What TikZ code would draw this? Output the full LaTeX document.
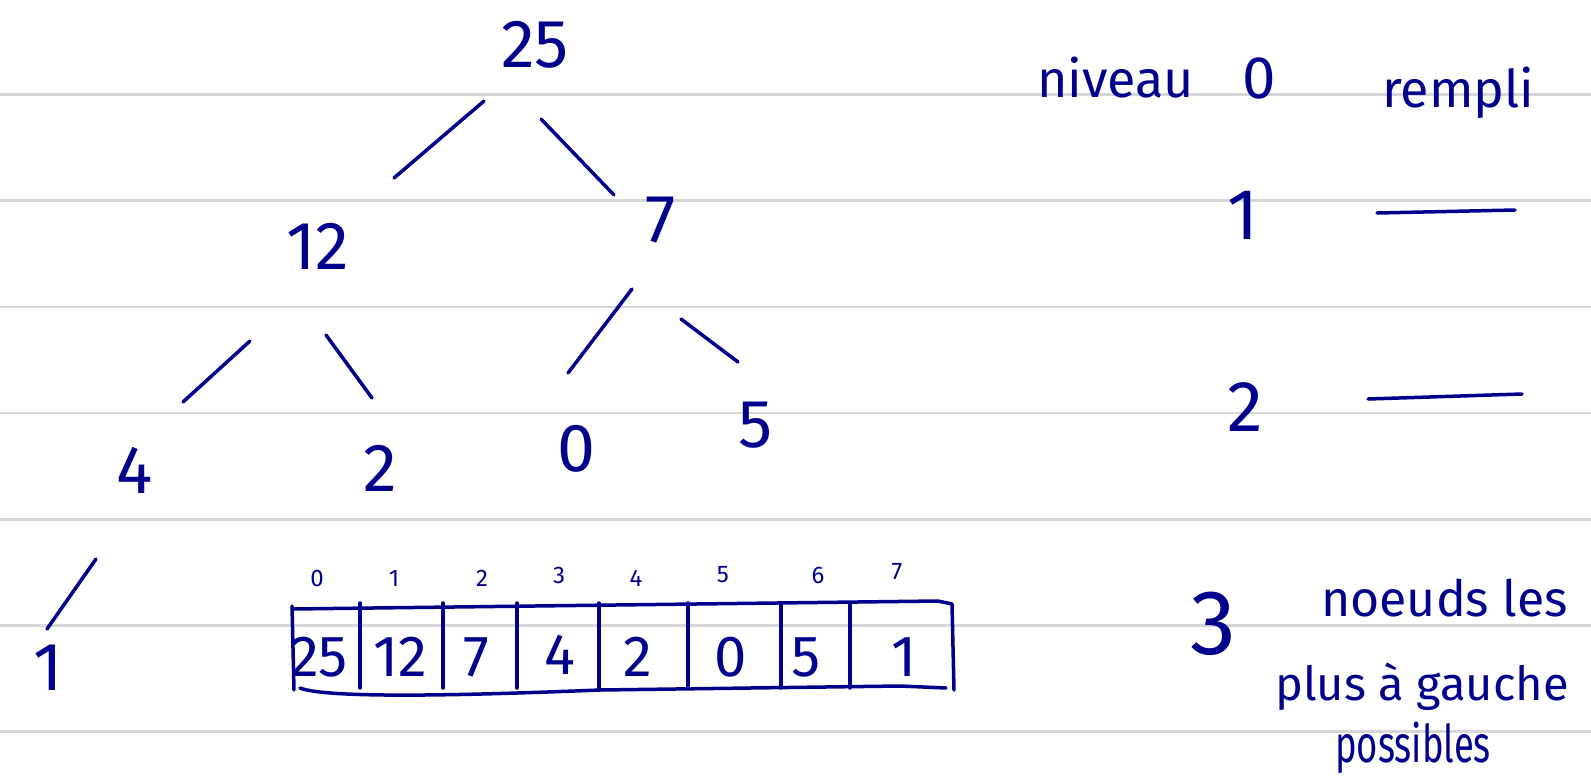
\documentclass[tikz,border=0pt]{standalone}
\usepackage{fontspec}
\setmainfont{Fira Sans}
\definecolor{inkc}{RGB}{0,0,140}
\definecolor{rulec}{RGB}{215,215,215}
\begin{document}
\begin{tikzpicture}[x=1pt,y=-1pt,
  ink/.style={draw=inkc, line width=3.5pt, line cap=round, line join=round},
  big/.style={text=inkc, font=\fontsize{68}{70}\selectfont, inner sep=0pt},
  lvl/.style={text=inkc, font=\fontsize{72}{74}\selectfont, inner sep=0pt},
  cell/.style={text=inkc, font=\fontsize{58}{60}\selectfont, inner sep=0pt},
  idx/.style={text=inkc, font=\fontsize{24}{26}\selectfont, inner sep=0pt},
  word/.style={text=inkc, font=\fontsize{52}{54}\selectfont, inner sep=0pt, anchor=base west},
  ruleline/.style={draw=rulec, line width=2.5pt}]
\useasboundingbox (0,0) rectangle (1591,780);
\fill[white] (0,0) rectangle (1591,780);
\foreach \y in {94.5,200.7,306.9,413.1,519.3,625.5,731.7}
  \draw[ruleline] (0,\y) -- (1591,\y);

% tree
\node[big] (n25) at (535,45) {25};
\node[big] (n12) at (318,246) {12};
\node[big] (n7) at (661,220) {7};
\node[big] (n4) at (135,470) {4};
\node[big] (n2) at (380,468) {2};
\node[big] (n0) at (576,449) {0};
\node[big] (n5) at (756,425) {5};
\node[big] (n1) at (48,668) {1};

\draw[ink] ([shift={(-51,56)}]n25.center) -- ([shift={(76,-68)}]n12.center);
\draw[ink] ([shift={(6,74)}]n25.center) -- ([shift={(-47,-25)}]n7.center);
\draw[ink] ([shift={(-68,95)}]n12.center) -- ([shift={(48,-68)}]n4.center);
\draw[ink] ([shift={(8,89)}]n12.center) -- ([shift={(-8,-70)}]n2.center);
\draw[ink] ([shift={(-29,69)}]n7.center) -- ([shift={(-8,-76)}]n0.center);
\draw[ink] ([shift={(20,99)}]n7.center) -- ([shift={(-18,-63)}]n5.center);
\draw[ink] ([shift={(-39,89)}]n4.center) -- ([shift={(-1,-39)}]n1.center);

% array
\draw[ink] (292,609) -- (938,601) -- (952,604) -- (954,690)
  (300,688) .. controls (330,700) and (500,694) .. (600,690) -- (900,686) -- (946,688);
\draw[ink] (292,606) -- (294,690);
\foreach \x in {360,443,517,599,688,781,850}
  \draw[ink] (\x,603) -- (\x,688);
\node[cell] (a0) at (319,657) {25};
\node[cell] (a1) at (400,657) {12};
\node[cell] (a2) at (476,657) {7};
\node[cell] (a3) at (560,655) {4};
\node[cell] (a4) at (638,657) {2};
\node[cell] (a5) at (731,657) {0};
\node[cell] (a6) at (806,657) {5};
\node[cell] (a7) at (904,657) {1};
\node[idx] (i0) at (317,578) {0};
\node[idx] (i1) at (394,578) {1};
\node[idx] (i2) at (482,578) {2};
\node[idx] (i3) at (559,575) {3};
\node[idx] (i4) at (636,578) {4};
\node[idx] (i5) at (723,575) {5};
\node[idx] (i6) at (818,575) {6};
\node[idx] (i7) at (897,572) {7};

% right column
\node[word] (niv) at (1037,97) {niveau};
\node[lvl, font=\fontsize{60}{62}\selectfont] (l0) at (1259,78) {0};
\node[word] (rem) at (1382,107) {rempli};
\node[lvl] (l1) at (1243,215) {1};
\draw[ink] (1377,213) -- (1515,210);
\node[lvl] (l2) at (1245,407) {2};
\draw[ink] (1368,399) -- (1522,394);
\node[lvl, font=\fontsize{92}{94}\selectfont] (l3) at (1213,624) {3};
\node[word, font=\fontsize{50}{52}\selectfont] (nl) at (1321,616) {noeuds les};
\node[word, font=\fontsize{47}{49}\selectfont] (pag) at (1275,700) {plus à gauche};
\node[word] (pos) at (1335,762) {\scalebox{0.7}[1]{possibles}};
\end{tikzpicture}
\end{document}
